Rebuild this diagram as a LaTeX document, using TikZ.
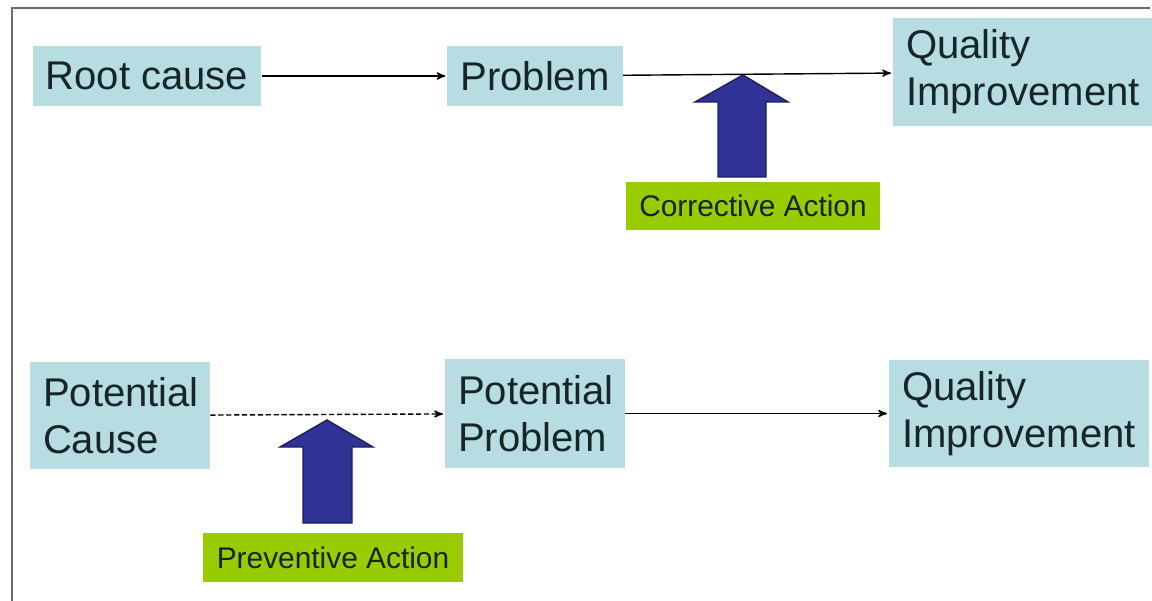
\documentclass[tikz,border=0pt]{standalone}
\usepackage{fontspec}
\setmainfont{Liberation Sans}
\usepackage{tikz}
\usetikzlibrary{arrows}
\definecolor{boxblue}{RGB}{183,221,227}
\definecolor{taggreen}{RGB}{153,204,0}
\definecolor{arrowblue}{RGB}{48,50,150}
\definecolor{inktext}{RGB}{22,38,40}

\begin{document}
\begin{tikzpicture}[x=0.02cm,y=-0.02cm,shorten >=1pt,>=stealth',auto]
		\tikzstyle{every node}=[text=inktext]
		\tikzstyle{actbox}=[fill=boxblue, inner xsep=0.26cm, inner ysep=0pt, align=left,
			font=\fontsize{22.8}{26.7}\selectfont]
		\tikzstyle{tagbox}=[fill=taggreen, inner sep=0pt, align=center,
			font=\fontsize{17}{20}\selectfont]
		\tikzstyle{bigarrow}=[fill=arrowblue, draw=arrowblue!60!black, line width=0.8pt]

		\useasboundingbox (0,0) rectangle (1152,601);
		% frame of the slide
		\draw[gray!85!black, line width=1.3pt] (12,601) -- (12,8) -- (1152,8);

		\node[actbox, minimum width=4.56cm, minimum height=1.2cm] (root) at (147,76) {Root cause};
		\node[actbox, minimum width=3.48cm, minimum height=1.2cm] (prob) at (535,76) {Problem};
		\node[actbox, minimum width=5.18cm, minimum height=2.16cm, text width=4.66cm] (qual1) at (1022.5,72) {Quality\\Improvement};
		\node[tagbox, minimum width=5.08cm, minimum height=0.96cm] (corr) at (753,206) {Corrective Action};

		\node[actbox, minimum width=3.6cm, minimum height=2.14cm, text width=3.08cm] (pcause) at (120,415.5) {Potential\\Cause};
		\node[actbox, minimum width=3.6cm, minimum height=2.18cm, text width=3.08cm] (pprob) at (535,413.5) {Potential\\Problem};
		\node[actbox, minimum width=5.2cm, minimum height=2.14cm, text width=4.68cm] (qual2) at (1019,413.5) {Quality\\Improvement};
		\node[tagbox, minimum width=5.2cm, minimum height=0.98cm] (prev) at (333,557.5) {Preventive Action};

		\path[->, line width=0.8pt]
			(root) edge (prob)
			(prob) edge (qual1)
			(pprob) edge (qual2);
		\path[->, dashed, line width=0.8pt, dash pattern=on 3pt off 1.5pt]
			(pcause) edge (pprob);

		% big up arrows
		\filldraw[bigarrow] (718,177) -- (718,102) -- (695,102) -- (743,75)
			-- (788,102) -- (766,102) -- (766,177) -- cycle;
		\filldraw[bigarrow] (303,523) -- (303,447) -- (280,447) -- (327,420)
			-- (373,447) -- (352,447) -- (352,523) -- cycle;
	\end{tikzpicture}
\end{document}
